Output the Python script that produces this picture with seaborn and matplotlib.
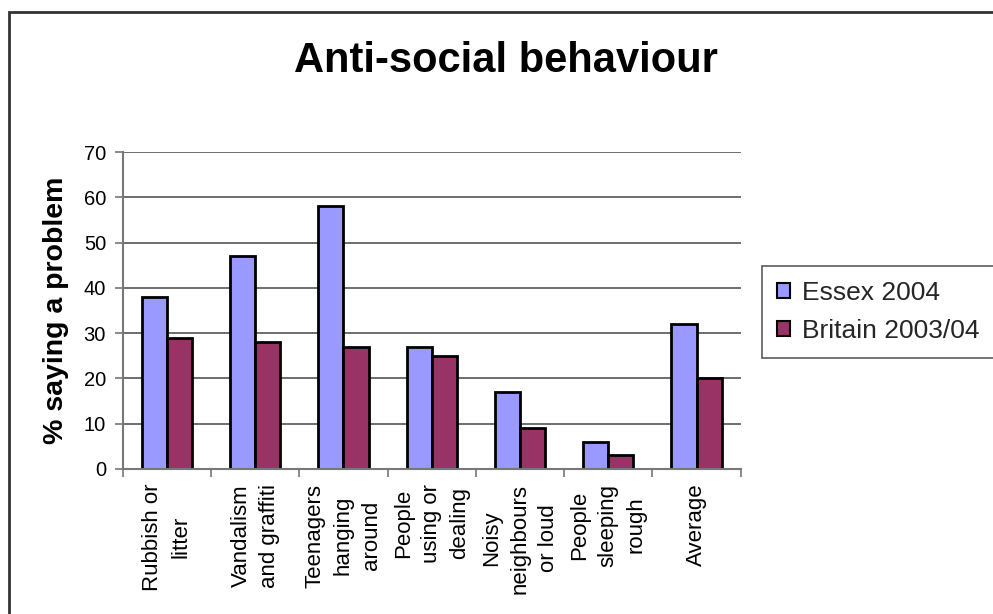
import matplotlib
matplotlib.use("Agg")
import matplotlib.pyplot as plt
from matplotlib.patches import Rectangle
import numpy as np
import pandas as pd
import seaborn as sns

# Survey results: share of respondents saying each behaviour is a problem (%)
categories = [
    "Rubbish or\nlitter",
    "Vandalism\nand graffiti",
    "Teenagers\nhanging\naround",
    "People\nusing or\ndealing",
    "Noisy\nneighbours\nor loud",
    "People\nsleeping\nrough",
    "Average",
]
series_names = ["Essex 2004", "Britain 2003/04"]
essex_2004 = [38, 47, 58, 27, 17, 6, 32]
britain_2003_04 = [29, 28, 27, 25, 9, 3, 20]
y_ticks = [0, 10, 20, 30, 40, 50, 60, 70]

df = pd.DataFrame({
    "category": categories * 2,
    "series": [series_names[0]] * len(categories) + [series_names[1]] * len(categories),
    "value": essex_2004 + britain_2003_04,
})

sns.set_theme(style="white")
plt.rcParams["font.family"] = ["Liberation Sans", "DejaVu Sans"]

W, H = 993, 614
fig = plt.figure(figsize=(W / 100, H / 100), dpi=100)
fig.patch.set_facecolor("white")

# plot area in pixel terms
x0, x1, y_top, y_bot = 122.7, 740.7, 152, 469
ax = fig.add_axes([x0 / W, (H - y_bot) / H, (x1 - x0) / W, (y_bot - y_top) / H])

palette = {"Essex 2004": "#9999FF", "Britain 2003/04": "#993366"}
sns.barplot(
    data=df, x="category", y="value", hue="series", order=categories,
    hue_order=series_names, palette=palette, width=0.57, gap=0,
    edgecolor="black", linewidth=2, saturation=1, ax=ax, legend=True,
)

ax.set_xlim(-0.5, len(categories) - 0.5)
ax.set_ylim(0, 70)
ax.set_yticks(y_ticks)
ax.yaxis.grid(True, color="#555555", linewidth=1.2)
ax.set_axisbelow(True)

for side in ["top", "right"]:
    ax.spines[side].set_visible(False)
for side in ["left", "bottom"]:
    ax.spines[side].set_color("#777777")
    ax.spines[side].set_linewidth(1.5)

ax.tick_params(axis="y", which="major", direction="out", length=6, width=1.2,
               color="#777777", left=True, labelsize=14.5, pad=6, labelcolor="black")

# category separators as major ticks, names on minor ticks at bar-group centres
n = len(categories)
ax.set_xticks(np.arange(n + 1) - 0.5)
ax.set_xticklabels([])
ax.set_xticks(np.arange(n), minor=True)
ax.set_xticklabels(categories, minor=True, rotation=90, fontsize=16,
                   va="top", ha="center", multialignment="center",
                   linespacing=1.45)
ax.tick_params(axis="x", which="major", direction="out", length=6, width=1.2,
               color="#777777", bottom=True)
ax.tick_params(axis="x", which="minor", length=0, pad=10.5, labelcolor="black")
ax.set_xlabel("")

ax.set_ylabel("% saying a problem", fontsize=20.5, fontweight="bold", color="black",
              va="center")
ax.yaxis.set_label_coords(-0.108, 0.5)

fig.text(506 / W, 1 - 72 / H, "Anti-social behaviour", ha="center", va="baseline",
         fontsize=30, fontweight="bold", color="black")

leg = ax.legend(
    title=None, loc="upper left", bbox_to_anchor=(762 / W, 1 - 266 / H),
    bbox_transform=fig.transFigure, fontsize=19, frameon=True, fancybox=False,
    edgecolor="#333333", borderpad=0.55, handlelength=0.5, handleheight=0.5,
    handletextpad=0.45, labelspacing=0.55, borderaxespad=0,
)
leg.get_frame().set_linewidth(1.2)
for h in leg.legend_handles:
    h.set_edgecolor("black")
    h.set_linewidth(1.5)

# outer chart-area border
fig.patches.append(Rectangle((8.5 / W, -0.1), 1.2, 1.1 - 12 / H,
                             transform=fig.transFigure, fill=False,
                             edgecolor="#333333", linewidth=2))

fig.savefig("out.png", dpi=100)
